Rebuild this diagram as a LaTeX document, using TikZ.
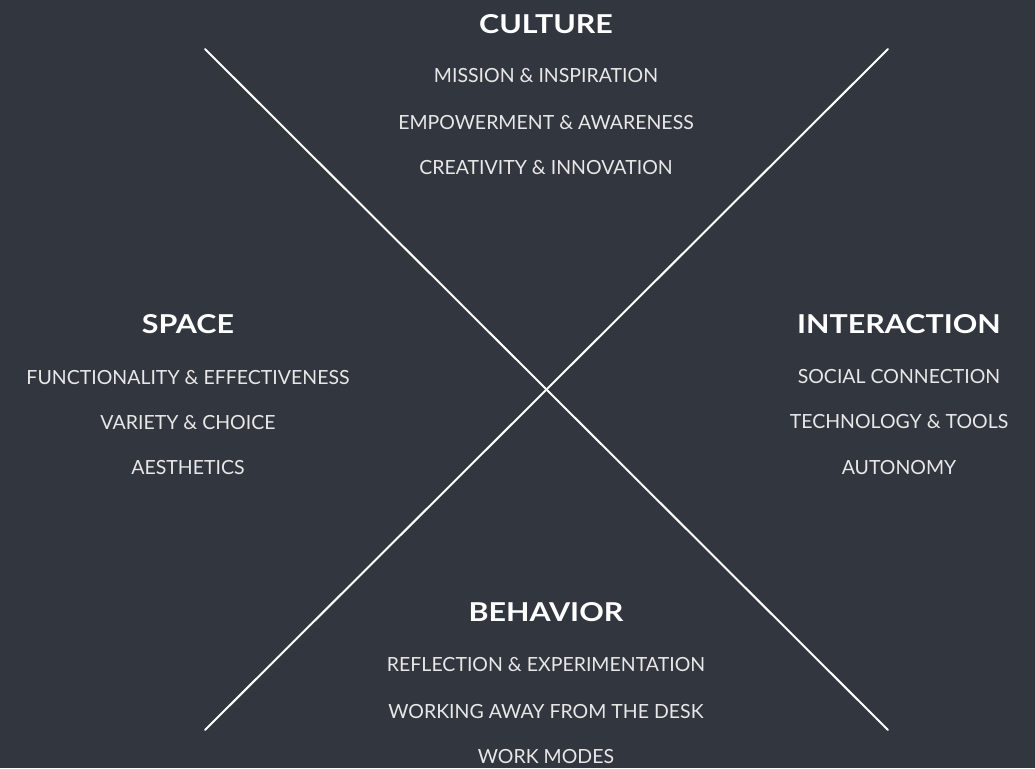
\documentclass[tikz,border=0pt]{standalone}
\usepackage{fontspec}
\setmainfont{Lato}
\definecolor{bg}{HTML}{32363E}
\definecolor{txt}{HTML}{E8E8E8}
\begin{document}
\begin{tikzpicture}[x=1pt,y=-1pt,
  head/.style={text=white,font=\fontsize{26}{30}\selectfont\bfseries,inner sep=0pt,anchor=center,xscale=1.17,transform shape},
  item/.style={text=txt,font=\fontsize{19.5}{22}\selectfont,inner sep=0pt,anchor=center},
  xline/.style={draw=white,line width=2pt,line cap=round}]
\fill[bg] (0,0) rectangle (1035,768);
\useasboundingbox (0,0) rectangle (1035,768);
\coordinate (tl) at (205,49);
\coordinate (tr) at (888,49);
\coordinate (bl) at (205,730);
\coordinate (br) at (888,730);
\draw[xline] (tl) -- (br);
\draw[xline] (tr) -- (bl);
% Culture
\node[head] (cult) at (546,24) {CULTURE};
\node[item] (c1) at (546,76) {MISSION \& INSPIRATION};
\node[item] (c2) at (546,123) {EMPOWERMENT \& AWARENESS};
\node[item] (c3) at (546,168) {CREATIVITY \& INNOVATION};
% Space
\node[head] (space) at (188,324) {SPACE};
\node[item] (s1) at (188,378) {FUNCTIONALITY \& EFFECTIVENESS};
\node[item] (s2) at (188,423) {VARIETY \& CHOICE};
\node[item] (s3) at (188,468) {AESTHETICS};
% Interaction
\node[head] (inter) at (899,324) {INTERACTION};
\node[item] (i1) at (899,377) {SOCIAL CONNECTION};
\node[item] (i2) at (899,422) {TECHNOLOGY \& TOOLS};
\node[item] (i3) at (899,468) {AUTONOMY};
% Behavior
\node[head] (beh) at (546,612) {BEHAVIOR};
\node[item] (b1) at (546,665) {REFLECTION \& EXPERIMENTATION};
\node[item] (b2) at (546,712) {WORKING AWAY FROM THE DESK};
\node[item] (b3) at (546,757) {WORK MODES};
\end{tikzpicture}
\end{document}
